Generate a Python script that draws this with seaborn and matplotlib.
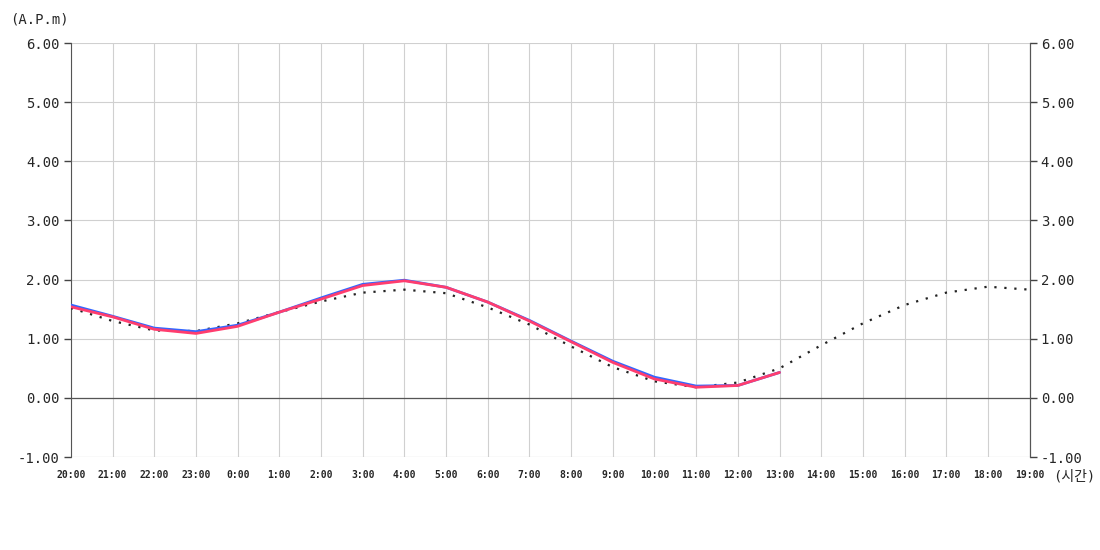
import numpy as np
import pandas as pd
import matplotlib
matplotlib.use("Agg")
import matplotlib.pyplot as plt
import seaborn as sns

sns.set_style("white")
plt.rcParams['font.family'] = ['DejaVu Sans Mono', 'Noto Sans CJK KR']

# 시간 라벨 (20:00 ~ 19:00)
hours = ['20:00', '21:00', '22:00', '23:00', '0:00', '1:00', '2:00', '3:00', '4:00',
         '5:00', '6:00', '7:00', '8:00', '9:00', '10:00', '11:00', '12:00', '13:00',
         '14:00', '15:00', '16:00', '17:00', '18:00', '19:00']

# 예측 (점선)
pred = [1.52, 1.30, 1.14, 1.13, 1.26, 1.45, 1.63, 1.78, 1.83, 1.77, 1.53, 1.24,
        0.87, 0.52, 0.28, 0.18, 0.26, 0.50, 0.89, 1.26, 1.57, 1.78, 1.88, 1.83]

# 관측 (파랑, 빨강) - 13:00 까지
obs_blue = [1.57, 1.38, 1.18, 1.12, 1.23, 1.45, 1.69, 1.92, 1.99, 1.87, 1.62, 1.31,
            0.96, 0.62, 0.35, 0.20, 0.21, 0.43]
obs_red = [1.54, 1.37, 1.16, 1.09, 1.21, 1.45, 1.67, 1.90, 1.98, 1.87, 1.62, 1.30,
           0.95, 0.60, 0.32, 0.18, 0.21, 0.43]

y_ticks = [-1, 0, 1, 2, 3, 4, 5, 6]

fig = plt.figure(figsize=(11, 5.5), dpi=100)
ax = fig.add_axes([0.0645, 0.169, 0.8715, 0.7528])

x_all = np.arange(len(hours))
sns.lineplot(x=x_all, y=pred, ax=ax, color='#222222', linestyle=(0, (1, 3.5)),
             linewidth=1.6, zorder=3)
sns.lineplot(x=x_all[:len(obs_blue)], y=obs_blue, ax=ax, color='#3366ff',
             linewidth=2, zorder=4)
sns.lineplot(x=x_all[:len(obs_red)], y=obs_red, ax=ax, color='#ff3d6e',
             linewidth=2, zorder=5)

ax.set_xlim(0, len(hours) - 1)
ax.set_ylim(-1, 6)
ax.set_xticks(x_all)
ax.set_xticklabels(hours, fontsize=7, fontweight='bold')
ax.set_yticks(y_ticks)
ax.set_yticklabels([f"{v:.2f}" for v in y_ticks], fontsize=10)
ax.grid(True, color='#d0d0d0', linewidth=0.8)
ax.axhline(0, color='#555555', linewidth=0.9, zorder=2)

ax.tick_params(axis='x', direction='in', length=4, width=1, color='black', pad=9)
ax.tick_params(axis='y', direction='out', length=5, width=1, color='#444444', pad=3)
for s in ['top', 'bottom']:
    ax.spines[s].set_visible(False)
ax.spines['left'].set_color('#555555')
ax.spines['right'].set_color('#555555')
ax.axhline(-1, color='#cccccc', linewidth=0.8, zorder=1)

ax2 = ax.twinx()
ax2.set_ylim(-1, 6)
ax2.set_yticks(y_ticks)
ax2.set_yticklabels([f"{v:.2f}" for v in y_ticks], fontsize=10)
ax2.tick_params(axis='y', direction='out', length=5, width=1, color='#444444', pad=3)
for s in ['top', 'bottom', 'left']:
    ax2.spines[s].set_visible(False)
ax2.spines['right'].set_color('#555555')

ax.set_xlabel('')
ax.set_ylabel('')
fig.text(0.009, 0.965, '(A.P.m)', fontsize=10, ha='left', va='center')
fig.text(0.957, 0.133, '(시간)', fontsize=10, ha='left', va='center')

fig.savefig('out.png', dpi=100)
